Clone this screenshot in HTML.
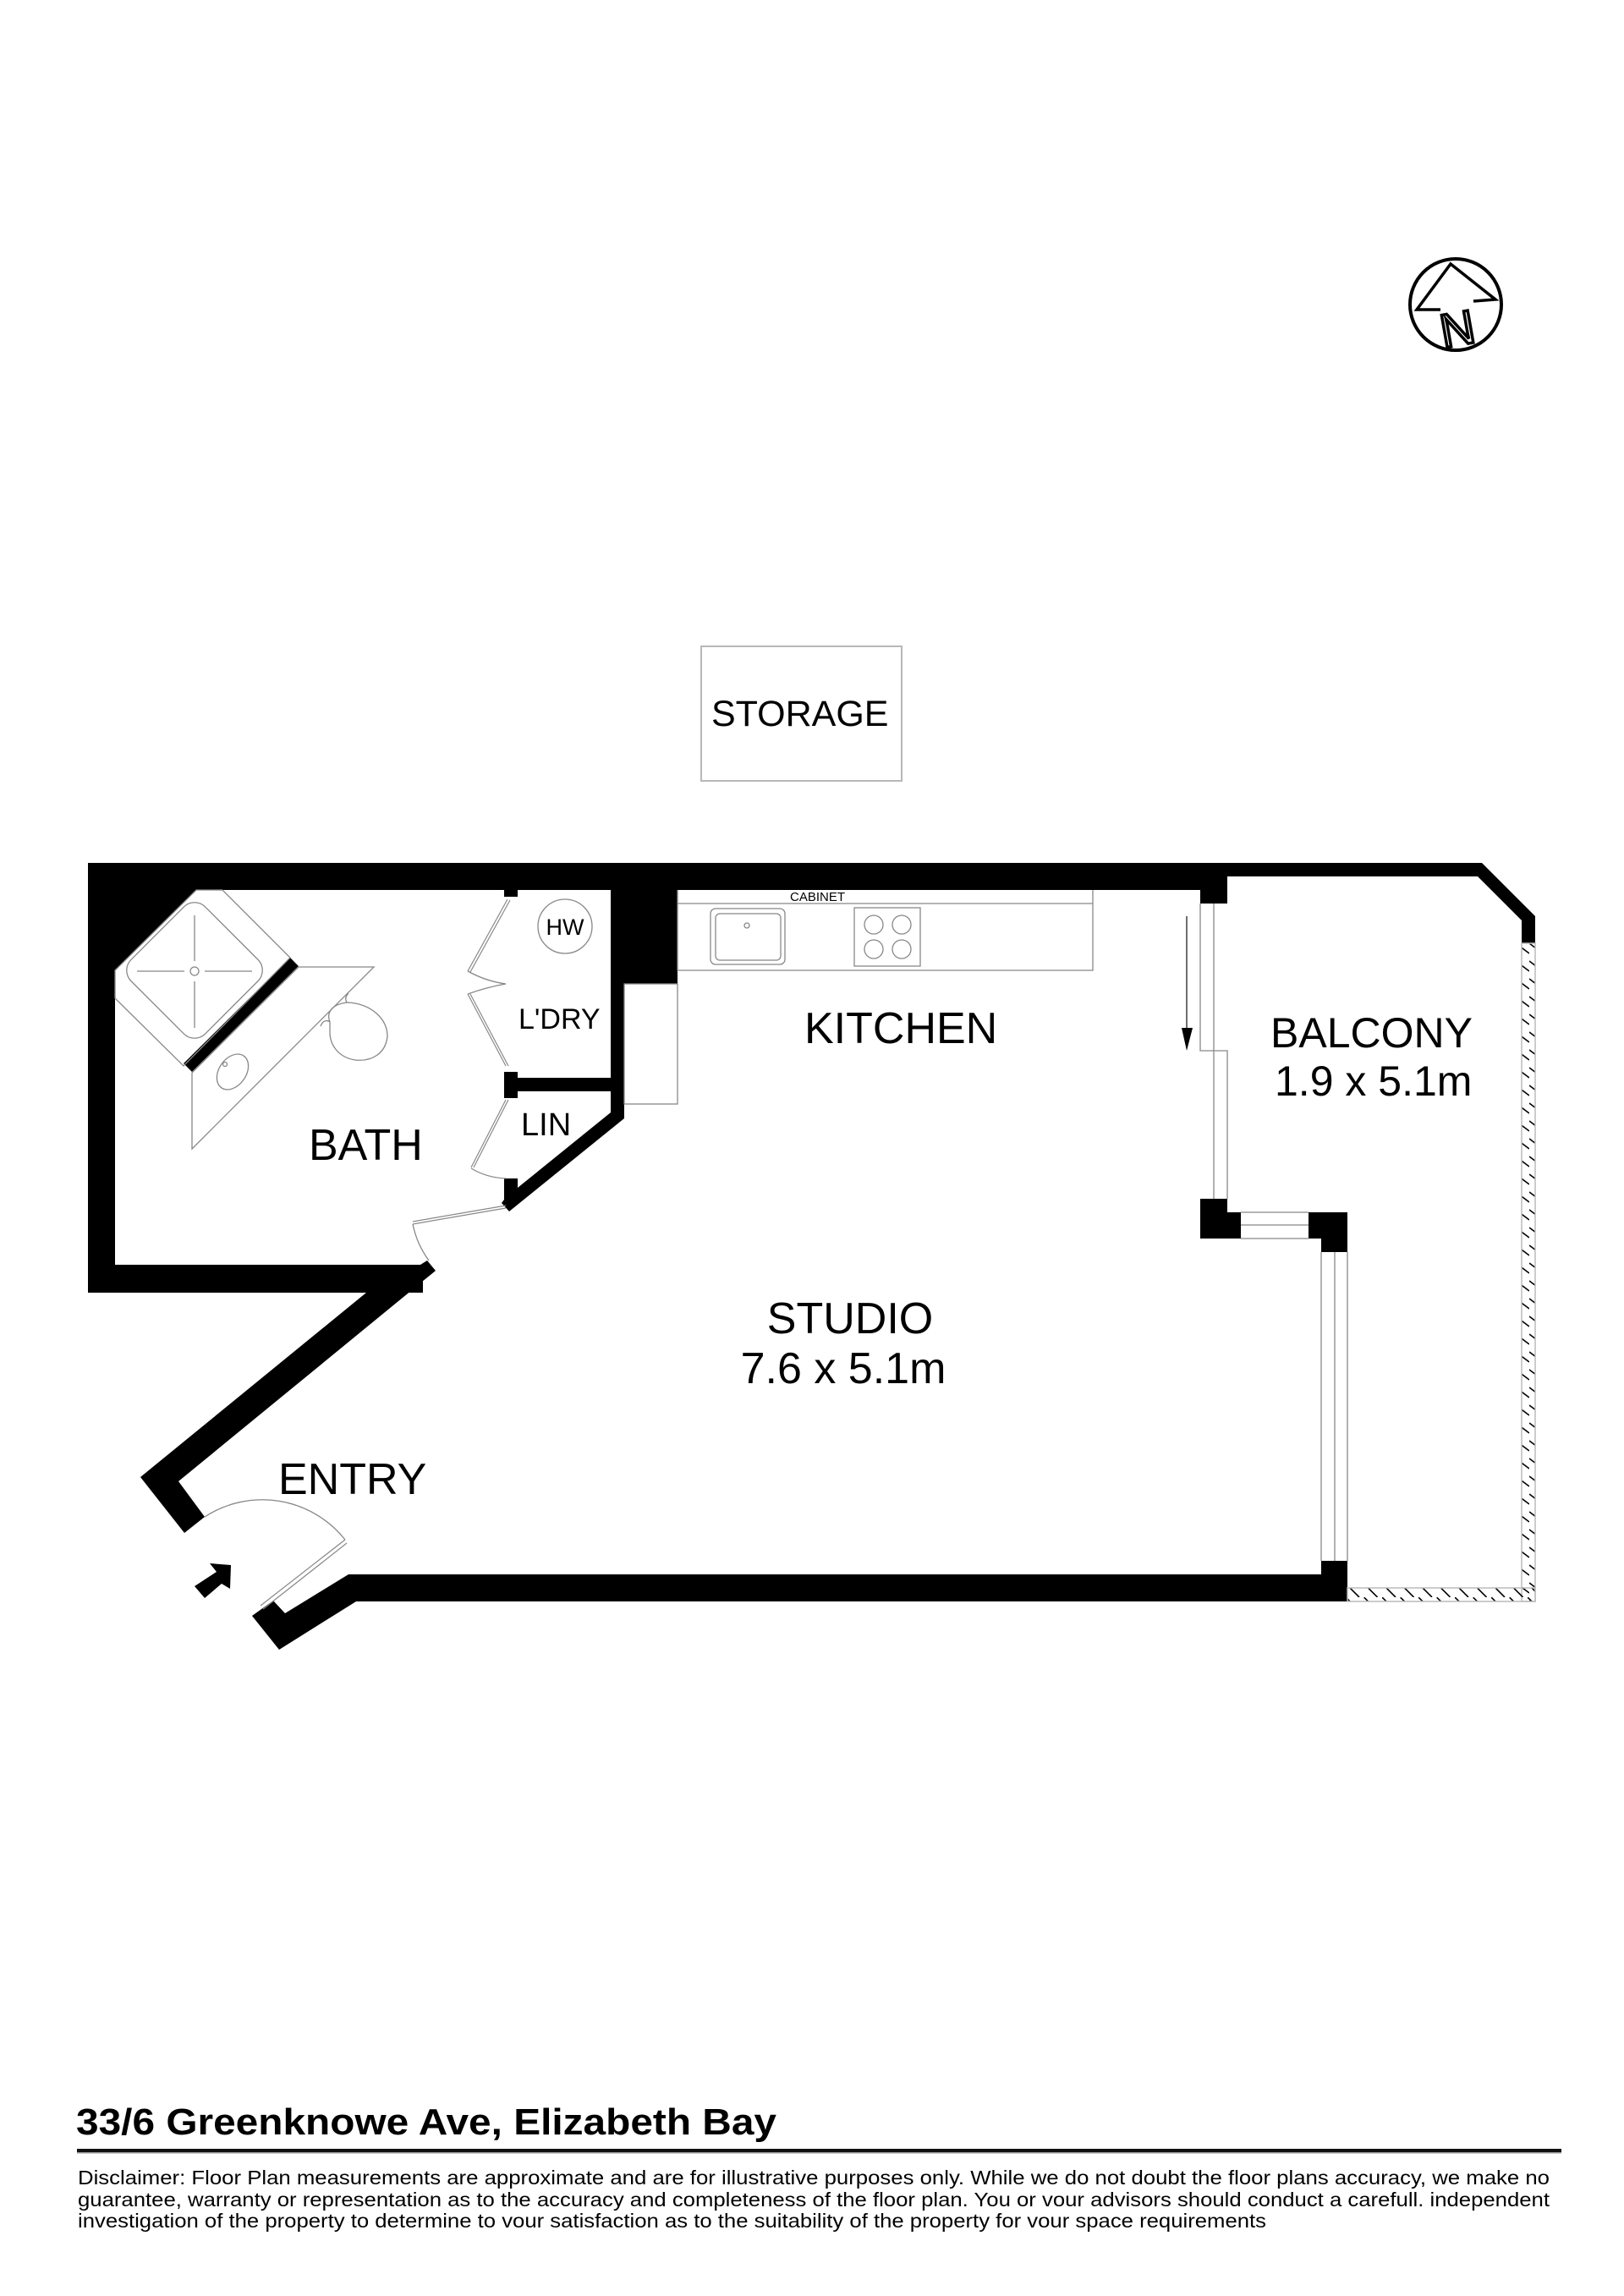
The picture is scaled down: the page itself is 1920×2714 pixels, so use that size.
<!DOCTYPE html>
<html><head><meta charset="utf-8"><style>
html,body{margin:0;padding:0;background:#fff;}
svg{display:block;}
text{font-family:"Liberation Sans",Arial,sans-serif;fill:#000;}
</style></head><body>
<svg width="1920" height="2714" viewBox="0 0 1920 2714" xmlns="http://www.w3.org/2000/svg">
<defs>
<pattern id="hv" width="16" height="21" patternUnits="userSpaceOnUse">
<line x1="0" y1="2" x2="16" y2="14" stroke="#000" stroke-width="1.6"/>
</pattern>
<pattern id="hh" width="21.5" height="16" patternUnits="userSpaceOnUse">
<line x1="0" y1="0" x2="16" y2="16" stroke="#000" stroke-width="1.6"/>
</pattern>
</defs>

<!-- compass -->
<circle cx="1721" cy="360" r="54" fill="none" stroke="#000" stroke-width="4"/>
<polyline points="1703,366 1675,366 1715,312 1768,354 1742,356" fill="none" stroke="#000" stroke-width="3.5" stroke-linejoin="miter"/>
<text x="1723" y="408" font-size="56" text-anchor="middle" transform="rotate(-10 1723 388)" style="fill:#fff;stroke:#000;stroke-width:3.5">N</text>

<!-- storage -->
<rect x="829" y="764" width="237" height="159" fill="none" stroke="#b8b8b8" stroke-width="2"/>
<text x="841" y="858" font-size="43">STORAGE</text>

<!-- main walls -->
<g fill="#000">
<rect x="104" y="1020" width="1347" height="32"/>
<rect x="104" y="1020" width="32" height="508"/>
<rect x="104" y="1495" width="396" height="33"/>
<polygon points="433,1528 166,1746 218,1812 242,1793 211,1751 515,1502 505,1490 497,1495 480,1495"/>
<polygon points="298,1910 323,1892 337,1907 412,1861 1562,1861 1562,1893 421,1893 330,1950"/>
<rect x="1562" y="1845" width="31" height="48"/>
<polygon points="136,1052 232,1052 136,1147"/>
<line x1="222" y1="1262" x2="348" y2="1137" stroke="#000" stroke-width="14"/>
<rect x="596" y="1052" width="16" height="8"/>
<rect x="596" y="1267" width="16" height="31"/>
<rect x="612" y="1274" width="110" height="16"/>
<polygon points="722,1052 738,1052 738,1322 602,1432 593,1422 596,1418 596,1393 612,1393 612,1404 722,1315"/>
<rect x="738" y="1052" width="63" height="111"/>
<rect x="1419" y="1052" width="32" height="16"/>
<rect x="1419" y="1417" width="32" height="16"/>
<rect x="1419" y="1433" width="48" height="31"/>
<rect x="1547" y="1433" width="15" height="31"/>
<rect x="1562" y="1433" width="31" height="47"/>
<polygon points="1451,1020 1752,1020 1815,1083 1815,1115 1799,1115 1799,1088 1747,1036 1451,1036"/>
</g>

<g fill="none" stroke="#888" stroke-width="1.3">
<polygon points="136,1147 232,1052 263,1052 343,1132 217,1260 136,1180"/>
<rect x="168" y="1085" width="124" height="124" rx="18" transform="rotate(45 230 1147)"/>
<circle cx="230" cy="1148" r="5"/>
<line x1="230" y1="1082" x2="230" y2="1136"/><line x1="230" y1="1160" x2="230" y2="1215"/>
<line x1="162" y1="1148" x2="218" y2="1148"/><line x1="242" y1="1148" x2="298" y2="1148"/>
<polygon points="227,1268 227,1358 442,1143 353,1143"/>
<ellipse cx="275" cy="1267" rx="23" ry="16" transform="rotate(-55 275 1267)"/>
<circle cx="266" cy="1258" r="2.5"/>
<path d="M390,1208 C385,1195 395,1186 412,1185 C440,1187 458,1205 458,1225 C456,1245 440,1255 420,1253 C400,1250 390,1235 390,1220 Z"/>
<path d="M379,1213 C382,1205 388,1206 390,1208 M410,1185 C407,1180 410,1176 412,1174"/>
<path d="M488,1447 L598,1428 M488,1444 L598,1425" stroke-width="1.2"/>
<path d="M488,1447 A110 110 0 0 0 507,1490"/>
<path d="M600,1063 L553,1148 M603,1064 L556,1149" stroke-width="1.2"/>
<path d="M553,1148 Q575,1160 598,1163 M553,1175 Q575,1167 598,1163"/>
<path d="M553,1175 L598,1260 M556,1175 L601,1260" stroke-width="1.2"/>
<path d="M598,1300 L557,1380 M601,1300 L560,1380" stroke-width="1.2"/>
<path d="M557,1381 Q575,1392 598,1393"/>
<circle cx="668" cy="1095" r="32"/>
<rect x="738" y="1163" width="63" height="142"/>
<polyline points="801,1052 801,1147 1292,1147 1292,1052"/>
<line x1="801" y1="1068" x2="1292" y2="1068"/>
<rect x="840" y="1074" width="88" height="66" rx="6"/>
<rect x="846" y="1080" width="77" height="55" rx="5"/>
<circle cx="883" cy="1094" r="3"/>
<rect x="1010" y="1073" width="78" height="69"/>
<circle cx="1033" cy="1093" r="11"/><circle cx="1066" cy="1093" r="11"/>
<circle cx="1033" cy="1122" r="11"/><circle cx="1066" cy="1122" r="11"/>
<polyline points="1419,1068 1419,1242 1451,1242 1451,1417"/>
<line x1="1435" y1="1068" x2="1435" y2="1417"/>
<line x1="1467" y1="1433" x2="1547" y2="1433"/>
<line x1="1467" y1="1448" x2="1547" y2="1448"/>
<line x1="1467" y1="1464" x2="1547" y2="1464"/>
<line x1="1562" y1="1480" x2="1562" y2="1845"/>
<line x1="1578" y1="1480" x2="1578" y2="1845"/>
<line x1="1593" y1="1480" x2="1593" y2="1845"/>
<path d="M242,1793 A125 125 0 0 1 408,1820"/>
<path d="M308,1898 L408,1820 M311,1902 L410,1824" stroke-width="1.2"/>
</g>

<line x1="1403" y1="1083" x2="1403" y2="1230" stroke="#222" stroke-width="1.3"/>
<polygon points="1397,1215 1410,1215 1403,1242" fill="#000"/>

<polygon points="230,1875 242,1889 262,1872 272,1878 273,1850 248,1848 256,1858" fill="#000"/>

<rect x="1799" y="1115" width="16" height="778" fill="url(#hv)" stroke="#bbb" stroke-width="1.5"/>
<rect x="1593" y="1877" width="222" height="16" fill="url(#hh)" stroke="#bbb" stroke-width="1.5"/>

<text x="668" y="1105" font-size="27" text-anchor="middle">HW</text>
<text x="613" y="1216" font-size="34">L'DRY</text>
<text x="616" y="1342" font-size="38">LIN</text>
<text x="365" y="1371" font-size="52">BATH</text>
<text x="934" y="1065" font-size="15">CABINET</text>
<text x="951" y="1233" font-size="52">KITCHEN</text>
<text x="1502" y="1238" font-size="50">BALCONY</text>
<text x="1507" y="1295" font-size="50">1.9 x 5.1m</text>
<text x="1005" y="1576" font-size="52" text-anchor="middle">STUDIO</text>
<text x="997" y="1635" font-size="52" text-anchor="middle">7.6 x 5.1m</text>
<text x="329" y="1766" font-size="52">ENTRY</text>

<text x="90" y="2523" font-size="44" font-weight="bold" textLength="828" lengthAdjust="spacingAndGlyphs">33/6 Greenknowe Ave, Elizabeth Bay</text>
<rect x="91" y="2540" width="1755" height="4" fill="#111"/>
<rect x="91" y="2544" width="1755" height="1.5" fill="#999"/>
<text x="92" y="2582" font-size="23.5" textLength="1740" lengthAdjust="spacingAndGlyphs">Disclaimer: Floor Plan measurements are approximate and are for illustrative purposes only. While we do not doubt the floor plans accuracy, we make no</text>
<text x="92" y="2608" font-size="23.5" textLength="1740" lengthAdjust="spacingAndGlyphs">guarantee, warranty or representation as to the accuracy and completeness of the floor plan. You or vour advisors should conduct a carefull. independent</text>
<text x="92" y="2633" font-size="23.5" textLength="1405" lengthAdjust="spacingAndGlyphs">investigation of the property to determine to vour satisfaction as to the suitability of the property for vour space requirements</text>
</svg>
</body></html>
